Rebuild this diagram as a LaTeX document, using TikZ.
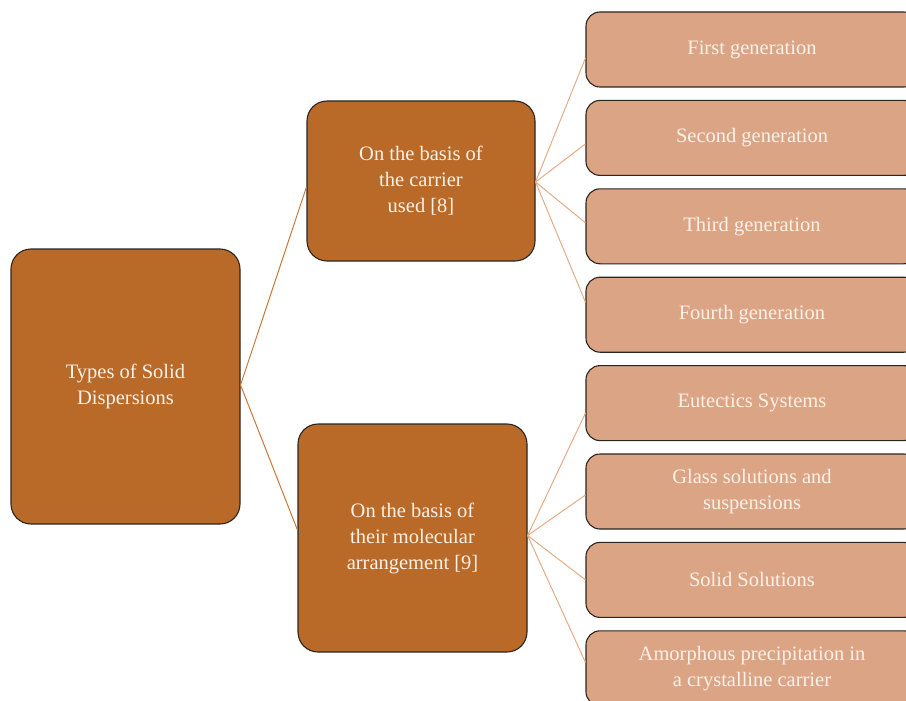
\documentclass[tikz,border=0pt]{standalone}
\usepackage{fontspec}
\setmainfont{Liberation Serif}
\usetikzlibrary{calc}
\definecolor{darkfill}{HTML}{B96A29}
\definecolor{lightfill}{HTML}{DBA485}
\definecolor{boxline}{HTML}{2A2520}
\definecolor{txt}{HTML}{FBF1E7}
\definecolor{mainlink}{HTML}{C97838}
\definecolor{sublink}{HTML}{E2AC88}
\tikzset{
  bigbox/.style={draw=boxline, line width=1.1pt, fill=darkfill, rounded corners=20pt,
    text=txt, align=center, inner sep=0pt, font=\fontsize{20.5}{26}\selectfont},
  leafbox/.style={draw=boxline, line width=1.1pt, fill=lightfill, rounded corners=14pt,
    text=txt, align=center, inner sep=0pt, minimum width=332pt, minimum height=75pt,
    font=\fontsize{20.5}{26}\selectfont},
  mainline/.style={draw=mainlink, line width=1pt},
  subline/.style={draw=sublink, line width=1pt}
}
\begin{document}
\begin{tikzpicture}[x=1pt,y=-1pt]
\useasboundingbox (0,0) rectangle (906,701);
\clip (0,0) rectangle (906,701);
% main boxes
\node[bigbox, minimum width=229pt, minimum height=275pt] (root) at (125.5,386.5) {Types of Solid\\Dispersions};
\node[bigbox, minimum width=228pt, minimum height=160pt] (carrier) at (421,181) {On the basis of\\the carrier\\used [8]};
\node[bigbox, minimum width=229pt, minimum height=228pt] (molec) at (412.5,538) {On the basis of\\their molecular\\arrangement [9]};
% leaf boxes
\node[leafbox] (c1) at (752,49.5) {First generation};
\node[leafbox] (c2) at (752,137.9) {Second generation};
\node[leafbox] (c3) at (752,226.3) {Third generation};
\node[leafbox] (c4) at (752,314.7) {Fourth generation};
\node[leafbox] (m1) at (752,403.1) {Eutectics Systems};
\node[leafbox] (m2) at (752,491.5) {Glass solutions and\\suspensions};
\node[leafbox] (m3) at (752,579.9) {Solid Solutions};
\node[leafbox] (m4) at (752,668.3) {Amorphous precipitation in\\a crystalline carrier};
% junction points
\coordinate (rj) at ($(root.east)+(0,-1.5)$);
\coordinate (ca) at ($(carrier.west)+(0,6)$);
\coordinate (mb) at ($(molec.west)+(0,-8)$);
\coordinate (cj) at ($(carrier.east)+(0,1)$);
\coordinate (mj) at ($(molec.east)+(0,-2.5)$);
\coordinate (e1) at ($(c1.west)+(0,8.5)$);
\coordinate (e2) at ($(c2.west)+(0,6)$);
\coordinate (e3) at ($(c3.west)+(0,-3.5)$);
\coordinate (e4) at ($(c4.west)+(0,-12.5)$);
\coordinate (f1) at ($(m1.west)+(0,10)$);
\coordinate (f2) at ($(m2.west)+(0,3.5)$);
\coordinate (f3) at ($(m3.west)+(0,0)$);
\coordinate (f4) at ($(m4.west)+(0,-6)$);
% connectors
\draw[mainline] (rj) -- (ca);
\draw[mainline] (rj) -- (mb);
\foreach \t in {e1,e2,e3,e4} \draw[subline] (cj) -- (\t);
\foreach \t in {f1,f2,f3,f4} \draw[subline] (mj) -- (\t);
\end{tikzpicture}
\end{document}
